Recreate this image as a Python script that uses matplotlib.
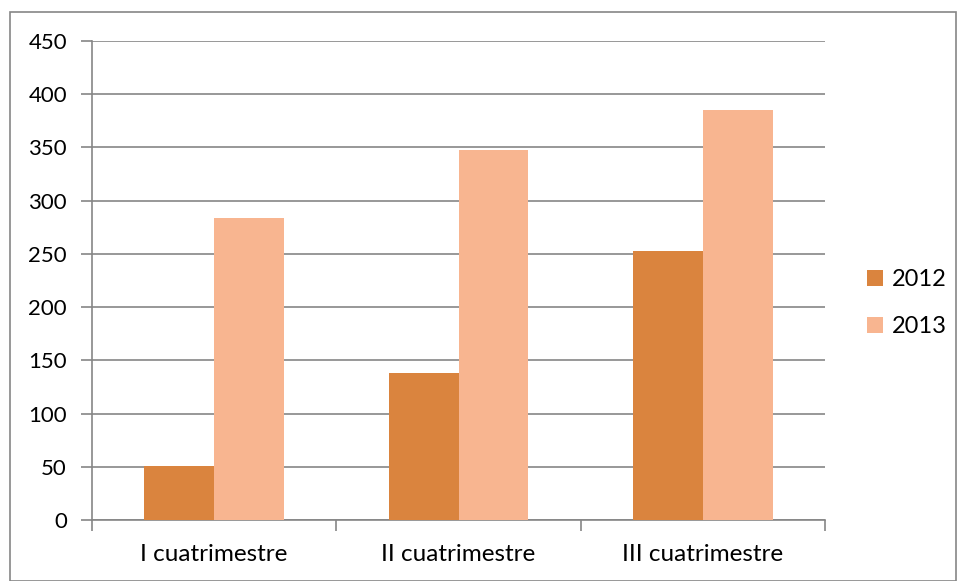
import numpy as np
import matplotlib.pyplot as plt
from matplotlib.patches import Rectangle

plt.rcParams['font.family'] = ['Lato', 'DejaVu Sans']

## Data
categories = ["I cuatrimestre", "II cuatrimestre", "III cuatrimestre"]
series_names = ["2012", "2013"]
values_2012 = [51, 138, 253]
values_2013 = [284, 348, 385]
colors = ["#DA843E", "#F8B590"]

## Plotting
W, H = 957, 581
fig = plt.figure(figsize=(W / 100, H / 100), dpi=100)
ax = fig.add_axes([92 / W, (H - 520) / H, (825 - 92) / W, (520 - 41) / H])

x = np.arange(len(categories))
bw = 1 / 3.5  # gap width 150%
ax.bar(x - bw / 2, values_2012, bw, color=colors[0], label=series_names[0], zorder=3)
ax.bar(x + bw / 2, values_2013, bw, color=colors[1], label=series_names[1], zorder=3)

ax.set_xlim(-0.5, len(categories) - 0.5)
ax.set_ylim(0, 450)
ax.set_yticks(np.arange(0, 451, 50))
ax.yaxis.grid(True, color="#868686", linewidth=1.2, zorder=0)

# category labels centered, ticks at boundaries
ax.set_xticks(np.arange(-0.5, len(categories), 1))
ax.set_xticklabels([])
ax.set_xticks(x, minor=True)
ax.set_xticklabels(categories, minor=True)
ax.tick_params(axis="x", which="minor", length=0, pad=17, labelsize=17.5)
ax.tick_params(axis="x", which="major", length=8, color="#868686", width=1.2)
ax.tick_params(axis="y", length=8, color="#868686", width=1.2, pad=10, labelsize=16)

for s in ["top", "right"]:
    ax.spines[s].set_visible(False)
for s in ["left", "bottom"]:
    ax.spines[s].set_color("#868686")
    ax.spines[s].set_linewidth(1.2)

leg = ax.legend(loc="center left", bbox_to_anchor=(1.045, 0.453), frameon=False,
                fontsize=17, handlelength=0.65, handleheight=0.65, labelspacing=1.1,
                handletextpad=0.4, borderaxespad=0)

# chart outer border
fig.patches.append(Rectangle((9.5 / W, 0.5 / H), (956 - 9.5) / W, (H - 12 - 0.5) / H,
                             transform=fig.transFigure, fill=False,
                             edgecolor="#868686", linewidth=1.2))

fig.savefig("out.png", dpi=100)
